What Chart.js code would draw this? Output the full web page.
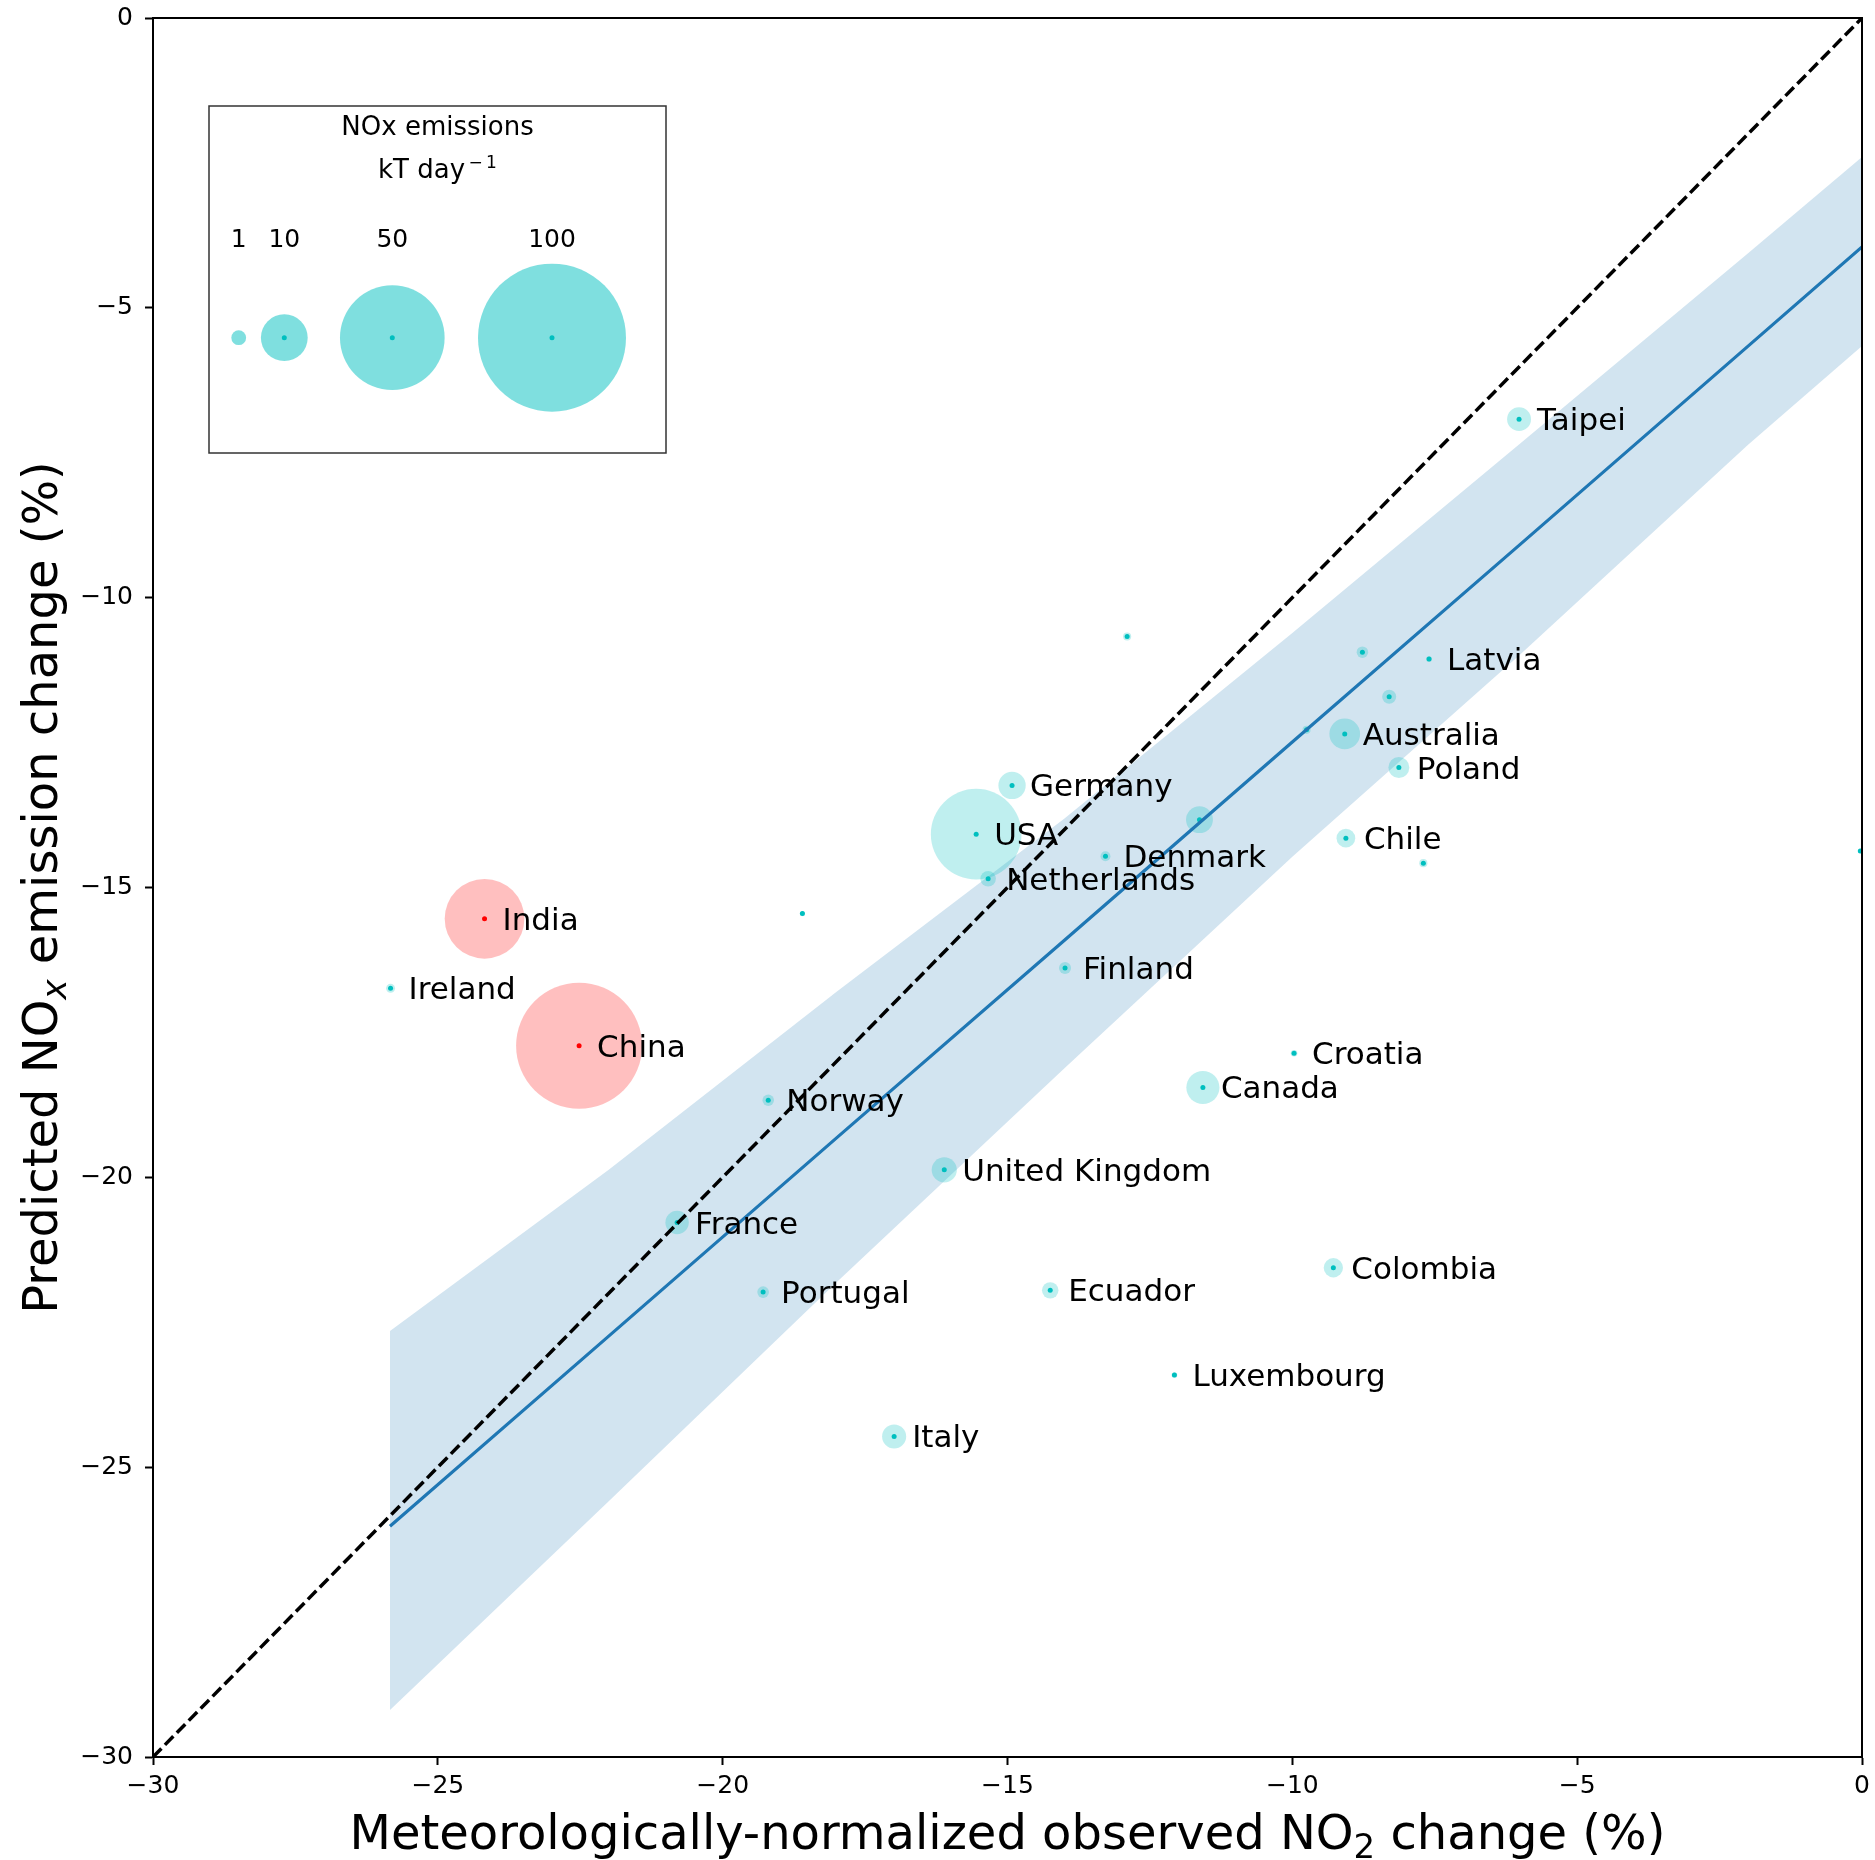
<!DOCTYPE html>
<html>
<head>
<meta charset="utf-8">
<script src="https://cdn.jsdelivr.net/npm/chart.js@4.4.1/dist/chart.umd.min.js"></script>
<style>
  body { margin: 0; background: #fff; }
  #wrap { width: 1875px; height: 1860px; }
</style>
</head>
<body>
<div id="wrap"><canvas id="noxChart" width="1875" height="1860"></canvas></div>
<script>
// countries ('' = point without a label)
const names = ['Taipei', '', 'Latvia', '', 'Australia', '', 'Poland', 'Chile', '', '',
  '', 'Germany', 'USA', '', 'Denmark', 'Netherlands', '', 'India', 'Ireland', 'China',
  'Finland', 'Croatia', 'Canada', 'Norway', 'United Kingdom', 'France', 'Colombia',
  'Portugal', 'Ecuador', 'Luxembourg', 'Italy'];
// meteorologically-normalized observed NO2 change (%)
const obsChange = [-6.02, -8.77, -7.60, -8.30, -9.08, -9.75, -8.13, -9.06, -7.70, -0.03,
  -12.90, -14.92, -15.55, -11.63, -13.28, -15.34, -18.60, -24.18, -25.83, -22.52,
  -13.99, -9.97, -11.57, -19.20, -16.11, -20.80, -9.28,
  -19.29, -14.25, -12.07, -16.99];
// predicted NOx emission change (%)
const predChange = [-6.92, -10.94, -11.06, -11.71, -12.35, -12.28, -12.93, -14.15, -14.58, -14.37,
  -10.67, -13.24, -14.08, -13.83, -14.46, -14.85, -15.45, -15.54, -16.74, -17.73,
  -16.39, -17.86, -18.45, -18.67, -19.87, -20.78, -21.56,
  -21.98, -21.95, -23.41, -24.47];
// NOx emissions (kT per day)
const noxEmission = [2.6, 0.6, 0.15, 0.9, 4.3, 0.3, 2.0, 1.6, 0.3, 0.1,
  0.3, 3.4, 37.5, 3.3, 0.45, 1.1, 0.12, 29, 0.37, 72.5,
  0.66, 0.2, 5.0, 0.6, 2.9, 2.5, 1.7,
  0.62, 1.24, 0.15, 2.65];
const highlighted = ['India', 'China'];

// regression fit and its confidence band
const fitX = [-25.84, -22, -18, -14, -10, -6, -2, 0];
const fitY = [-26.02, -22.74, -19.32, -15.91, -12.49, -9.08, -5.66, -3.95];
const bandUpper = [-22.65, -19.87, -16.80, -13.81, -10.61, -7.34, -4.06, -2.40];
const bandLower = [-29.19, -25.59, -21.81, -18.12, -14.47, -10.98, -7.36, -5.66];
const oneToOne = [-30, 0];

const tickValues = [-30, -25, -20, -15, -10, -5, 0];
const legendSizes = [1, 10, 50, 100];

const SIZE_K = 7.4;  // bubble radius in px per sqrt(kT/day)
const CYAN = 'rgb(0, 191, 191)';
const FONT = "'DejaVu Sans', 'Noto Sans', sans-serif";

Chart.defaults.font.family = FONT;
Chart.defaults.color = '#000';

const isRed = names.map(n => highlighted.includes(n));
const bubbleFill = isRed.map(r => r ? 'rgba(255, 0, 0, 0.25)' : 'rgba(0, 191, 191, 0.25)');
const dotFill = isRed.map(r => r ? 'rgb(255, 0, 0)' : CYAN);

const fmtTick = v => (v < 0 ? '\u2212' + Math.abs(v) : String(v));

function drawRich(ctx, parts, cx, baseY) {
  let total = 0;
  const widths = parts.map(p => {
    ctx.font = (p.italic ? 'italic ' : '') + p.size + 'px ' + FONT;
    const w = ctx.measureText(p.t).width;
    total += w;
    return w;
  });
  let x = cx - total / 2;
  ctx.textAlign = 'left';
  ctx.textBaseline = 'alphabetic';
  parts.forEach((p, i) => {
    ctx.font = (p.italic ? 'italic ' : '') + p.size + 'px ' + FONT;
    ctx.fillText(p.t, x, baseY + (p.dy || 0));
    x += widths[i];
  });
}

const decorPlugin = {
  id: 'decor',
  afterDatasetsDraw(chart) {
    const ctx = chart.ctx;
    const xs = chart.scales.x, ys = chart.scales.y;
    const area = chart.chartArea;
    ctx.save();
    ctx.beginPath();
    ctx.rect(area.left, area.top, area.right - area.left, area.bottom - area.top);
    ctx.clip();
    ctx.fillStyle = '#000';
    ctx.font = '31px ' + FONT;
    ctx.textAlign = 'left';
    ctx.textBaseline = 'alphabetic';
    names.forEach((n, i) => {
      if (!n) return;
      const px = xs.getPixelForValue(obsChange[i]);
      const py = ys.getPixelForValue(predChange[i]);
      ctx.fillText(n, px + 18, py + 11);
    });
    ctx.restore();
  },
  afterDraw(chart) {
    const ctx = chart.ctx;
    const a = chart.chartArea;
    ctx.save();

    // size legend
    const L = a.left, T = a.top;
    ctx.fillStyle = '#fff';
    ctx.fillRect(L + 56, T + 88, 457, 347);
    ctx.strokeStyle = '#333';
    ctx.lineWidth = 1.5;
    ctx.strokeRect(L + 56, T + 88, 457, 347);
    ctx.fillStyle = '#000';
    ctx.font = '26px ' + FONT;
    ctx.textAlign = 'center';
    ctx.textBaseline = 'alphabetic';
    ctx.fillText('NOx emissions', L + 284.5, T + 117);
    drawRich(ctx, [
      { t: 'kT day', size: 26 },
      { t: '\u2009\u2212\u20091', size: 17, dy: -10 }
    ], L + 284.5, T + 160);
    const cxs = [85.7, 131.3, 239.3, 399];
    legendSizes.forEach((v, i) => {
      const cx = L + cxs[i], cy = T + 319.7;
      ctx.fillStyle = '#000';
      ctx.font = '25px ' + FONT;
      ctx.textAlign = 'center';
      ctx.fillText(String(v), cx, T + 228.7);
      ctx.fillStyle = 'rgba(0, 191, 191, 0.5)';
      ctx.beginPath();
      ctx.arc(cx, cy, SIZE_K * Math.sqrt(v), 0, Math.PI * 2);
      ctx.fill();
      if (v > 1) {
        ctx.fillStyle = CYAN;
        ctx.beginPath();
        ctx.arc(cx, cy, 2.5, 0, Math.PI * 2);
        ctx.fill();
      }
    });

    // frame
    ctx.strokeStyle = '#000';
    ctx.lineWidth = 2;
    ctx.strokeRect(a.left, a.top, a.right - a.left, a.bottom - a.top);

    // axis titles
    ctx.fillStyle = '#000';
    drawRich(ctx, [
      { t: 'Meteorologically-normalized observed NO', size: 48 },
      { t: '2', size: 34, dy: 9 },
      { t: ' change (%)', size: 48 }
    ], (a.left + a.right) / 2, 1849);
    ctx.translate(57, (a.top + a.bottom) / 2);
    ctx.rotate(-Math.PI / 2);
    drawRich(ctx, [
      { t: 'Predicted NO', size: 48 },
      { t: 'x', size: 34, dy: 9, italic: true },
      { t: ' emission change (%)', size: 48 }
    ], 0, 0);
    ctx.restore();
  }
};

const axisCommon = {
  type: 'linear',
  min: -30,
  max: 0,
  afterBuildTicks: s => { s.ticks = tickValues.map(v => ({ value: v })); },
  grid: { drawOnChartArea: false, drawTicks: true, tickLength: 8, tickWidth: 2, tickColor: '#000' },
  border: { display: true, color: '#000', width: 2 }
};

function noScalePadding(s) {
  s.paddingTop = 0;
  s.paddingBottom = 0;
  s.paddingLeft = 0;
  s.paddingRight = 0;
}

new Chart(document.getElementById('noxChart'), {
  type: 'scatter',
  data: {
    datasets: [
      {
        type: 'line',
        label: '1:1',
        data: oneToOne.map(v => ({ x: v, y: v })),
        borderColor: '#000',
        borderWidth: 3.5,
        borderDash: [12, 5],
        pointRadius: 0,
        order: 1
      },
      {
        type: 'line',
        label: 'fit',
        data: fitX.map((x, i) => ({ x, y: fitY[i] })),
        borderColor: 'rgb(31, 119, 180)',
        borderWidth: 3.2,
        pointRadius: 0,
        order: 2
      },
      {
        type: 'scatter',
        label: 'centres',
        data: obsChange.map((x, i) => ({ x, y: predChange[i] })),
        pointBackgroundColor: dotFill,
        pointBorderWidth: 0,
        pointBorderColor: 'rgba(0,0,0,0)',
        pointRadius: 2.5,
        order: 3
      },
      {
        type: 'bubble',
        label: 'NOx emissions',
        data: obsChange.map((x, i) => ({ x, y: predChange[i], r: SIZE_K * Math.sqrt(noxEmission[i]) })),
        backgroundColor: bubbleFill,
        borderWidth: 0,
        borderColor: 'rgba(0,0,0,0)',
        hoverRadius: 0,
        order: 4
      },
      {
        type: 'line',
        label: 'band lower',
        data: fitX.map((x, i) => ({ x, y: bandLower[i] })),
        borderColor: 'rgba(0,0,0,0)',
        borderWidth: 0,
        pointRadius: 0,
        fill: false,
        order: 6
      },
      {
        type: 'line',
        label: 'band upper',
        data: fitX.map((x, i) => ({ x, y: bandUpper[i] })),
        borderColor: 'rgba(0,0,0,0)',
        borderWidth: 0,
        pointRadius: 0,
        fill: '-1',
        backgroundColor: 'rgba(31, 119, 180, 0.2)',
        order: 5
      }
    ]
  },
  options: {
    responsive: false,
    animation: false,
    events: [],
    layout: { autoPadding: false, padding: { top: 18, right: 13, left: 0, bottom: 0 } },
    plugins: {
      legend: { display: false },
      tooltip: { enabled: false }
    },
    scales: {
      x: {
        ...axisCommon,
        ticks: { callback: fmtTick, font: { size: 25 }, color: '#000', padding: 6, maxRotation: 0, autoSkip: false },
        afterFit: s => { s.height = 103; noScalePadding(s); }
      },
      y: {
        ...axisCommon,
        ticks: { callback: fmtTick, font: { size: 25 }, color: '#000', padding: 12, autoSkip: false },
        afterFit: s => { s.width = 153; noScalePadding(s); }
      }
    }
  },
  plugins: [decorPlugin]
});
</script>
</body>
</html>
